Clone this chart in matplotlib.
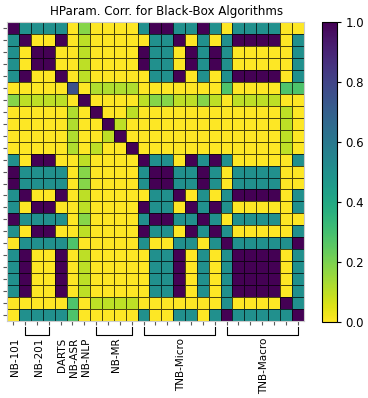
import numpy as np
import matplotlib.pyplot as plt
from matplotlib.transforms import blended_transform_factory

# hyperparameter groups: (label, first column, last column)
groups = [
    ("NB-101", 0, 0),
    ("NB-201", 1, 3),
    ("DARTS", 4, 4),
    ("NB-ASR", 5, 5),
    ("NB-NLP", 6, 6),
    ("NB-MR", 7, 10),
    ("TNB-Micro", 11, 17),
    ("TNB-Macro", 18, 24),
]

# correlation matrix (25 x 25)
corr = [
    [1, .5, .5, .5, .5, 0, .18, 0, 0, 0, 0, .5, 1, 1, .5, .5, 1, .5, 0, .5, .5, .5, .5, 0, 0],
    [.5, 1, 0, 0, 1, 0, .1, 0, 0, 0, 0, 0, .5, .5, 1, 0, .5, 0, .5, 1, 1, 1, 1, 0, .5],
    [.5, 0, 1, 1, 0, 0, .1, 0, 0, 0, 0, 1, .5, .5, 0, 1, .5, 1, .5, 0, 0, 0, 0, 0, .5],
    [.5, 0, 1, 1, 0, 0, .1, 0, 0, 0, 0, 1, .5, .5, 0, 1, .5, 1, .5, 0, 0, 0, 0, 0, .5],
    [.5, 1, 0, 0, 1, 0, .1, 0, 0, 0, 0, 0, .5, .5, 1, 0, .5, 0, .5, 1, 1, 1, 1, 0, .5],
    [0, 0, 0, 0, 0, .75, 0, .12, .12, .12, .12, 0, 0, 0, 0, 0, 0, 0, .28, 0, 0, 0, 0, .28, .28],
    [.18, .1, .1, .1, .1, 0, 1, 0, 0, 0, 0, .1, .18, .18, .1, .1, .18, .1, 0, .1, .1, .1, .1, 0, 0],
    [0, 0, 0, 0, 0, .12, 0, 1, 0, 0, .1, 0, 0, 0, 0, 0, 0, 0, 0, 0, 0, 0, 0, .1, 0],
    [0, 0, 0, 0, 0, .12, 0, 0, 1, .1, 0, 0, 0, 0, 0, 0, 0, 0, 0, 0, 0, 0, 0, .1, 0],
    [0, 0, 0, 0, 0, .12, 0, 0, .1, 1, 0, 0, 0, 0, 0, 0, 0, 0, 0, 0, 0, 0, 0, .1, 0],
    [0, 0, 0, 0, 0, .12, 0, .1, 0, 0, 1, 0, 0, 0, 0, 0, 0, 0, 0, 0, 0, 0, 0, .1, 0],
    [.5, 0, 1, 1, 0, 0, .1, 0, 0, 0, 0, 1, .5, .5, 0, 1, .5, 1, .5, 0, 0, 0, 0, 0, .5],
    [1, .5, .5, .5, .5, 0, .18, 0, 0, 0, 0, .5, 1, 1, .5, .5, 1, .5, 0, .5, .5, .5, .5, 0, 0],
    [1, .5, .5, .5, .5, 0, .18, 0, 0, 0, 0, .5, 1, 1, .5, .5, 1, .5, 0, .5, .5, .5, .5, 0, 0],
    [.5, 1, 0, 0, 1, 0, .1, 0, 0, 0, 0, 0, .5, .5, 1, 0, .5, 0, .5, 1, 1, 1, 1, 0, .5],
    [.5, 0, 1, 1, 0, 0, .1, 0, 0, 0, 0, 1, .5, .5, 0, 1, .5, 1, .5, 0, 0, 0, 0, 0, .5],
    [1, .5, .5, .5, .5, 0, .18, 0, 0, 0, 0, .5, 1, 1, .5, .5, 1, .5, 0, .5, .5, .5, .5, 0, 0],
    [.5, 0, 1, 1, 0, 0, .1, 0, 0, 0, 0, 1, .5, .5, 0, 1, .5, 1, .5, 0, 0, 0, 0, 0, .5],
    [0, .5, .5, .5, .5, .28, 0, 0, 0, 0, 0, .5, 0, 0, .5, .5, 0, .5, 1, .5, .5, .5, .5, .5, 1],
    [.5, 1, 0, 0, 1, 0, .1, 0, 0, 0, 0, 0, .5, .5, 1, 0, .5, 0, .5, 1, 1, 1, 1, 0, .5],
    [.5, 1, 0, 0, 1, 0, .1, 0, 0, 0, 0, 0, .5, .5, 1, 0, .5, 0, .5, 1, 1, 1, 1, 0, .5],
    [.5, 1, 0, 0, 1, 0, .1, 0, 0, 0, 0, 0, .5, .5, 1, 0, .5, 0, .5, 1, 1, 1, 1, 0, .5],
    [.5, 1, 0, 0, 1, 0, .1, 0, 0, 0, 0, 0, .5, .5, 1, 0, .5, 0, .5, 1, 1, 1, 1, 0, .5],
    [0, 0, 0, 0, 0, .28, 0, .1, .1, .1, .1, 0, 0, 0, 0, 0, 0, 0, .5, 0, 0, 0, 0, 1, .5],
    [0, .5, .5, .5, .5, .28, 0, 0, 0, 0, 0, .5, 0, 0, .5, .5, 0, .5, 1, .5, .5, .5, .5, .5, 1],
]
cbar_ticks = [0.0, 0.2, 0.4, 0.6, 0.8, 1.0]

M = np.array(corr, dtype=float)
n = M.shape[0]

fig = plt.figure(figsize=(3.68, 3.98), dpi=100)
ax = fig.add_axes([0.0198, 0.193, 0.805, 0.752])

mesh = ax.pcolormesh(np.arange(n + 1), np.arange(n + 1), M, cmap='viridis_r',
                     vmin=0, vmax=1, edgecolors=(0, 0, 0, 0.7), linewidth=0.6)
ax.set_xlim(0, n)
ax.set_ylim(n, 0)
ax.set_xticks(np.arange(n) + 0.5)
ax.set_yticks(np.arange(n) + 0.5)
ax.set_xticklabels([])
ax.set_yticklabels([])
ax.tick_params(length=3, width=0.8, color='0.35')
for s in ax.spines.values():
    s.set_color('0.8')
    s.set_linewidth(0.8)

ax.set_title("HParam. Corr. for Black-Box Algorithms", fontsize=8.6, pad=5, x=0.536)

# group labels and brackets below the matrix
trans = blended_transform_factory(ax.transData, ax.transAxes)
for name, s, e in groups:
    cx = (s + e) / 2 + 0.5
    if e > s:
        ax.plot([s + .5, s + .5, e + .5, e + .5], [-0.019, -0.047, -0.047, -0.019],
                transform=trans, clip_on=False, color='k', lw=0.8)
    ax.annotate(name, xy=(cx, 0), xycoords=trans, xytext=(1.2, -12),
                textcoords='offset points', rotation=90, ha='center', va='top',
                fontsize=7.5)

cax = fig.add_axes([321.7 / 368, 1 - 321.7 / 398, 15 / 368, 300 / 398])
cb = fig.colorbar(mesh, cax=cax, ticks=cbar_ticks)
cb.ax.tick_params(labelsize=8.5, length=3)
cb.ax.set_yticklabels([f"{t:.1f}" for t in cbar_ticks])

fig.savefig("out.png", dpi=100)
